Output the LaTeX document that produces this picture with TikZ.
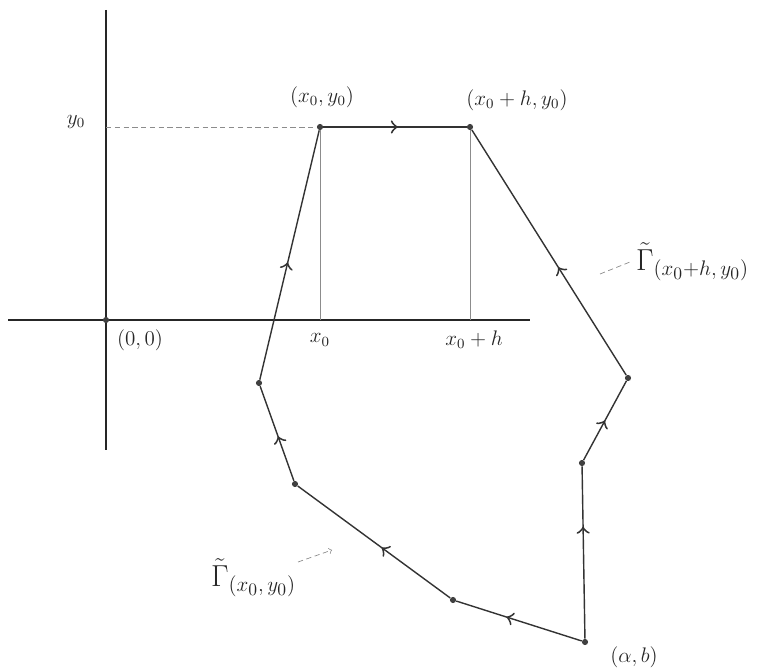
\documentclass[tikz,border=0pt]{standalone}
\usepackage{amsmath}
\usepackage{amssymb}
\usepackage{xcolor}
\usetikzlibrary{decorations.markings}

\begin{document}
\begin{tikzpicture}[
  x=0.02cm,y=-0.02cm,
  axis/.style={draw=black!85,line width=0.9pt},
  guide/.style={draw=black!45,line width=0.4pt},
  edge/.style={draw=black!80,line width=0.8pt},
  midarrow/.style={postaction={decorate},decoration={markings,mark=at position #1 with {\arrow[scale=1.8,line width=0.6pt]{>}}}},
  vertex/.style={circle,fill=black!75,inner sep=0pt,minimum size=3.5pt},
  gamma/.style={font=\LARGE},
  every node/.style={font=\large,text=black!85}
]
\useasboundingbox (0,0) rectangle (766,671);

% axes
\coordinate (ytop) at (106,10);
\coordinate (ybot) at (106,450);
\coordinate (xleft) at (8,320);
\coordinate (xright) at (530,320);
\draw[axis] (ytop) -- (ybot);
\draw[axis] (xleft) -- (xright);
\node[vertex] (origin) at (106,320) {};

% corners of the segment
\node[vertex] (p0) at (320,127) {};
\node[vertex] (ph) at (470,127) {};
\coordinate (y0ax) at (106,127);
\coordinate (x0ax) at (320,320);
\coordinate (xhax) at (470,320);
\draw[guide,densely dashed] (y0ax) -- (p0);
\draw[guide] (p0) -- (x0ax);
\draw[guide] (ph) -- (xhax);

% the two paths
\node[vertex] (ab) at (585,642) {};
\node[vertex] (r1) at (582,463) {};
\node[vertex] (r2) at (628,378) {};
\node[vertex] (l1) at (453,600) {};
\node[vertex] (l2) at (295,484) {};
\node[vertex] (l3) at (259,383) {};

\draw[edge,midarrow=0.65] (ab) -- (r1);
\draw[edge,midarrow=0.5] (r1) -- (r2);
\draw[edge,midarrow=0.44] (r2) -- (ph);

\draw[edge,midarrow=0.6] (ab) -- (l1);
\draw[edge,midarrow=0.45] (l1) -- (l2);
\draw[edge,midarrow=0.47] (l2) -- (l3);
\draw[edge,midarrow=0.47] (l3) -- (p0);
\draw[edge,line width=1.3pt,midarrow=0.52] (p0) -- (ph);

% labels
\node (ylab) at (76,122) {$y_0$};
\node (olab) at (140,340) {$(0,0)$};
\node (x0lab) at (320,340) {$x_0$};
\node (xhlab) at (474,340) {$x_0+h$};
\node (p0lab) at (322,97) {$(x_0,y_0)$};
\node (phlab) at (517,100) {$(x_0+h,y_0)$};
\node (ablab) at (634,657) {$(\alpha,b)$};
\node[gamma,anchor=west] (gright) at (630,262) {$\tilde{\Gamma}_{(x_0+h,\,y_0)}$};
\node[gamma,anchor=west] (gleft) at (205,578) {$\tilde{\Gamma}_{(x_0,\,y_0)}$};

% small pointers
\coordinate (gr0) at (600,274);
\coordinate (gl0) at (298,562);
\coordinate (gl1) at (332,550);
\draw[guide,densely dashed] (gr0) -- (gright.west);
\draw[guide,densely dashed,->] (gl0) -- (gl1);
\end{tikzpicture}
\end{document}
